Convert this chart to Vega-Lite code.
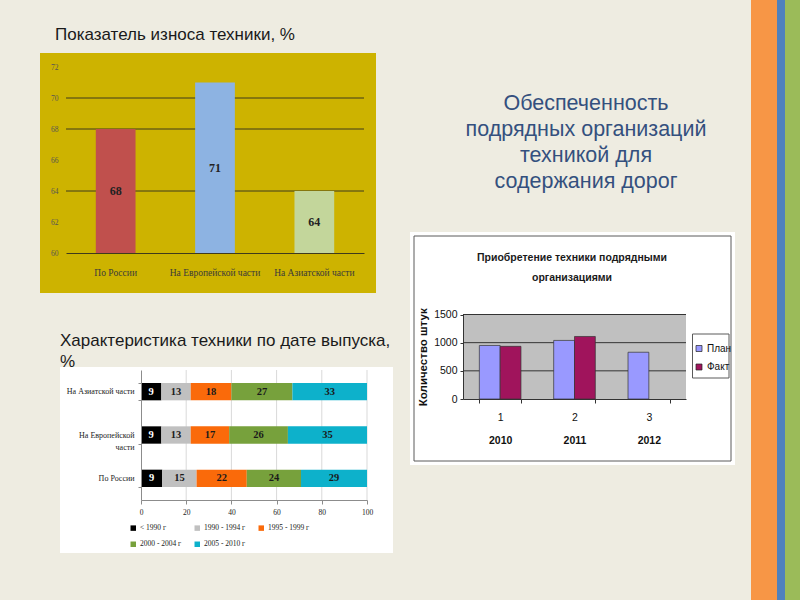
{
"$schema": "https://vega.github.io/schema/vega-lite/v6.json",
"width": 800, "height": 600,
"autosize": {"type": "none"},
"padding": 0,
"background": "#EEECE1",
"config": {"view": {"stroke": null}, "axis": {"grid": false, "zindex": 1}, "legend": {"zindex": 1}},
"resolve": {
  "scale": {"x": "independent", "y": "independent", "color": "independent", "xOffset": "independent"},
  "axis": {"x": "independent", "y": "independent"},
  "legend": {"color": "independent"}
},
"layer": [
{
  "data": {"values": [{"stripe": "orange", "k": 1, "w": 26}, {"stripe": "blue", "k": 2, "w": 8}, {"stripe": "green", "k": 3, "w": 15}]},
  "transform": [{"stack": "w", "groupby": [], "sort": [{"field": "k", "order": "ascending"}], "as": ["w0", "w1"]}],
  "mark": {"type": "rect"},
  "encoding": {
    "x": {"field": "w0", "type": "quantitative", "scale": {"domain": [0, 49], "range": [751, 800], "nice": false, "zero": false}, "axis": null},
    "x2": {"field": "w1"},
    "y": {"datum": 0, "type": "quantitative", "scale": {"domain": [0, 1], "range": [0, 600], "nice": false}, "axis": null},
    "y2": {"datum": 1},
    "color": {"field": "stripe", "type": "nominal", "scale": {"domain": ["orange", "blue", "green"], "range": ["#F79646", "#4F81BD", "#9BBB59"]}, "legend": null}
  }
},
{
  "data": {"values": [{"t": "Показатель износа техники, %"}]},
  "mark": {"type": "text", "align": "left", "baseline": "alphabetic", "font": "Liberation Sans", "fontSize": 17, "color": "#1A1A1A"},
  "encoding": {
    "text": {"field": "t", "type": "nominal"},
    "x": {"datum": 0, "type": "quantitative", "scale": {"domain": [0, 1], "range": [55, 56], "nice": false}, "axis": null},
    "y": {"datum": 0, "type": "quantitative", "scale": {"domain": [0, 1], "range": [40, 41], "nice": false}, "axis": null}
  }
},
{
  "data": {"values": [{"part": "box1"}]},
  "mark": {"type": "rect", "fill": "#CDB300"},
  "encoding": {
    "x": {"datum": 0, "type": "quantitative", "scale": {"domain": [0, 1], "range": [40, 376], "nice": false}, "axis": null},
    "x2": {"datum": 1},
    "y": {"datum": 0, "type": "quantitative", "scale": {"domain": [0, 1], "range": [53, 293], "nice": false}, "axis": null},
    "y2": {"datum": 1}
  }
},
{
  "data": {"values": [{"v": 64}, {"v": 68}, {"v": 70}]},
  "mark": {"type": "rule", "color": "#3F3A1C", "strokeWidth": 1},
  "encoding": {
    "y": {"field": "v", "type": "quantitative", "scale": {"domain": [60, 72], "range": [253, 67], "nice": false, "zero": false}, "axis": null},
    "x": {"datum": 0, "type": "quantitative", "scale": {"domain": [0, 1], "range": [66, 364], "nice": false}, "axis": null},
    "x2": {"datum": 1}
  }
},
{
  "data": {"values": [{"region": "По России", "value": 68}, {"region": "На Европейской части", "value": 71}, {"region": "На Азиатской части", "value": 64}]},
  "mark": {"type": "bar"},
  "encoding": {
    "x": {"field": "region", "type": "nominal", "sort": null,
      "scale": {"domain": ["По России", "На Европейской части", "На Азиатской части"], "range": [66, 364], "paddingInner": 0.6, "paddingOuter": 0.3},
      "axis": {"orient": "bottom", "offset": -347, "title": null, "domainColor": "#3F3A1C", "domainWidth": 1, "ticks": false, "labelPadding": 14, "labelAngle": 0, "labelFont": "Liberation Serif", "labelFontSize": 9.5, "labelColor": "#3A3A3A", "zindex": 1}},
    "y": {"field": "value", "type": "quantitative",
      "scale": {"domain": [60, 72], "range": [253, 67], "nice": false, "zero": false},
      "axis": {"orient": "left", "offset": -66, "title": null, "values": [60, 62, 64, 66, 68, 70, 72], "domain": false, "ticks": false, "grid": false, "labelPadding": 8, "labelFont": "Liberation Serif", "labelFontSize": 7.5, "labelColor": "#555555", "zindex": 1}},
    "y2": {"datum": 60},
    "color": {"field": "region", "type": "nominal", "scale": {"domain": ["По России", "На Европейской части", "На Азиатской части"], "range": ["#C0504D", "#8DB3E2", "#C3D69B"]}, "legend": null}
  }
},
{
  "data": {"values": [{"region": "По России", "value": 68}, {"region": "На Европейской части", "value": 71}, {"region": "На Азиатской части", "value": 64}]},
  "mark": {"type": "text", "font": "Liberation Serif", "fontWeight": "bold", "fontSize": 12, "color": "#222222", "baseline": "middle"},
  "encoding": {
    "x": {"field": "region", "type": "nominal", "sort": null,
      "scale": {"domain": ["По России", "На Европейской части", "На Азиатской части"], "range": [66, 364], "paddingInner": 0.6, "paddingOuter": 0.3}, "axis": null},
    "y": {"field": "value", "type": "quantitative", "scale": {"domain": [60, 84], "range": [253, 67], "nice": false, "zero": false}, "axis": null},
    "text": {"field": "value", "type": "quantitative"}
  }
},
{
  "data": {"values": [{"t": ["Характеристика техники по дате выпуска,", "%"]}]},
  "mark": {"type": "text", "align": "left", "baseline": "alphabetic", "font": "Liberation Sans", "fontSize": 17, "lineHeight": 21, "color": "#1A1A1A"},
  "encoding": {
    "text": {"field": "t", "type": "nominal"},
    "x": {"datum": 0, "type": "quantitative", "scale": {"domain": [0, 1], "range": [60, 61], "nice": false}, "axis": null},
    "y": {"datum": 0, "type": "quantitative", "scale": {"domain": [0, 1], "range": [346, 347], "nice": false}, "axis": null}
  }
},
{
  "data": {"values": [{"part": "box2"}]},
  "mark": {"type": "rect", "fill": "#FFFFFF"},
  "encoding": {
    "x": {"datum": 0, "type": "quantitative", "scale": {"domain": [0, 1], "range": [60, 393], "nice": false}, "axis": null},
    "x2": {"datum": 1},
    "y": {"datum": 0, "type": "quantitative", "scale": {"domain": [0, 1], "range": [367, 553], "nice": false}, "axis": null},
    "y2": {"datum": 1}
  }
},
{
  "data": {"values": [{"v": 20}, {"v": 40}, {"v": 60}, {"v": 80}, {"v": 100}]},
  "mark": {"type": "rule", "color": "#D9D9D9", "strokeWidth": 1},
  "encoding": {
    "x": {"field": "v", "type": "quantitative", "scale": {"domain": [0, 100], "range": [141, 367], "nice": false}, "axis": null},
    "y": {"datum": 0, "type": "quantitative", "scale": {"domain": [0, 1], "range": [370, 500], "nice": false}, "axis": null},
    "y2": {"datum": 1}
  }
},
{
  "data": {"values": [
    {"region": "На Азиатской части", "period": "< 1990 г", "k": 1, "value": 9},
    {"region": "На Азиатской части", "period": "1990 - 1994 г", "k": 2, "value": 13},
    {"region": "На Азиатской части", "period": "1995 - 1999 г", "k": 3, "value": 18},
    {"region": "На Азиатской части", "period": "2000 - 2004 г", "k": 4, "value": 27},
    {"region": "На Азиатской части", "period": "2005 - 2010 г", "k": 5, "value": 33},
    {"region": "На Европейской части", "period": "< 1990 г", "k": 1, "value": 9},
    {"region": "На Европейской части", "period": "1990 - 1994 г", "k": 2, "value": 13},
    {"region": "На Европейской части", "period": "1995 - 1999 г", "k": 3, "value": 17},
    {"region": "На Европейской части", "period": "2000 - 2004 г", "k": 4, "value": 26},
    {"region": "На Европейской части", "period": "2005 - 2010 г", "k": 5, "value": 35},
    {"region": "По России", "period": "< 1990 г", "k": 1, "value": 9.4},
    {"region": "По России", "period": "1990 - 1994 г", "k": 2, "value": 15.2},
    {"region": "По России", "period": "1995 - 1999 г", "k": 3, "value": 22.2},
    {"region": "По России", "period": "2000 - 2004 г", "k": 4, "value": 24.0},
    {"region": "По России", "period": "2005 - 2010 г", "k": 5, "value": 29.2}
  ]},
  "mark": {"type": "bar"},
  "encoding": {
    "y": {"field": "region", "type": "nominal", "sort": null,
      "scale": {"domain": ["На Азиатской части", "На Европейской части", "По России"], "range": [370, 500], "paddingInner": 0.6, "paddingOuter": 0.3},
      "axis": {"orient": "left", "offset": -141, "title": null, "domainColor": "#8C8C8C", "tickBand": "extent", "tickSize": 3, "tickColor": "#8C8C8C", "labelPadding": 4, "labelFont": "Liberation Serif", "labelFontSize": 8, "labelColor": "#222222", "labelLineHeight": 12,
        "labelExpr": "datum.value == 'На Европейской части' ? ['На Европейской', 'части'] : datum.value", "zindex": 1}},
    "x": {"field": "value", "type": "quantitative", "stack": "zero",
      "scale": {"domain": [0, 100], "range": [141, 367], "nice": false},
      "axis": {"orient": "bottom", "offset": -100, "title": null, "values": [0, 20, 40, 60, 80, 100], "grid": false, "domainColor": "#8C8C8C", "tickColor": "#8C8C8C", "tickSize": 4, "labelPadding": 4, "labelFlush": false, "labelFont": "Liberation Serif", "labelFontSize": 7.5, "labelColor": "#222222", "zindex": 1}},
    "order": {"field": "k", "type": "quantitative"},
    "color": {"field": "period", "type": "nominal",
      "scale": {"domain": ["< 1990 г", "1990 - 1994 г", "1995 - 1999 г", "2000 - 2004 г", "2005 - 2010 г"], "range": ["#000000", "#C0C0C0", "#FA6A0A", "#77A13C", "#0DB1CB"]},
      "legend": {"orient": "none", "legendX": 129.5, "legendY": 524, "direction": "horizontal", "columns": 3, "title": null, "padding": 0, "symbolType": "square", "symbolSize": 30, "symbolStrokeWidth": 0, "labelFont": "Liberation Serif", "labelFontSize": 7.5, "labelColor": "#222222", "labelOffset": 3, "columnPadding": 12, "rowPadding": 7.5, "zindex": 1}}
  }
},
{
  "data": {"values": [
    {"region": "На Азиатской части", "k": 1, "value": 9},
    {"region": "На Азиатской части", "k": 2, "value": 13},
    {"region": "На Азиатской части", "k": 3, "value": 18},
    {"region": "На Азиатской части", "k": 4, "value": 27},
    {"region": "На Азиатской части", "k": 5, "value": 33},
    {"region": "На Европейской части", "k": 1, "value": 9},
    {"region": "На Европейской части", "k": 2, "value": 13},
    {"region": "На Европейской части", "k": 3, "value": 17},
    {"region": "На Европейской части", "k": 4, "value": 26},
    {"region": "На Европейской части", "k": 5, "value": 35},
    {"region": "По России", "k": 1, "value": 9.4},
    {"region": "По России", "k": 2, "value": 15.2},
    {"region": "По России", "k": 3, "value": 22.2},
    {"region": "По России", "k": 4, "value": 24.0},
    {"region": "По России", "k": 5, "value": 29.2}
  ]},
  "transform": [
    {"window": [{"op": "sum", "field": "value", "as": "cum"}], "groupby": ["region"], "sort": [{"field": "k", "order": "ascending"}], "frame": [null, 0]},
    {"window": [{"op": "sum", "field": "cum", "as": "cum2"}], "groupby": ["region"], "sort": [{"field": "k", "order": "ascending"}], "frame": [-1, 0]}
  ],
  "mark": {"type": "text", "font": "Liberation Serif", "fontWeight": "bold", "fontSize": 10.5, "baseline": "middle"},
  "encoding": {
    "y": {"field": "region", "type": "nominal", "sort": null,
      "scale": {"domain": ["На Азиатской части", "На Европейской части", "По России"], "range": [370, 500], "paddingInner": 0.6, "paddingOuter": 0.3}, "axis": null},
    "x": {"field": "cum2", "type": "quantitative", "stack": null, "scale": {"domain": [0, 200], "range": [141, 367], "nice": false}, "axis": null},
    "text": {"field": "value", "type": "quantitative", "format": ".0f"},
    "color": {"condition": {"test": "datum.k == 1", "value": "#FFFFFF"}, "value": "#1A1A1A"}
  }
},
{
  "data": {"values": [{"t": ["Обеспеченность", "подрядных организаций", "техникой для", "содержания дорог"]}]},
  "mark": {"type": "text", "align": "center", "baseline": "alphabetic", "font": "Liberation Sans", "fontSize": 21.5, "lineHeight": 26, "color": "#34507E"},
  "encoding": {
    "text": {"field": "t", "type": "nominal"},
    "x": {"datum": 0, "type": "quantitative", "scale": {"domain": [0, 1], "range": [586, 587], "nice": false}, "axis": null},
    "y": {"datum": 0, "type": "quantitative", "scale": {"domain": [0, 1], "range": [110, 111], "nice": false}, "axis": null}
  }
},
{
  "data": {"values": [{"part": "box3"}]},
  "mark": {"type": "rect", "fill": "#FFFFFF"},
  "encoding": {
    "x": {"datum": 0, "type": "quantitative", "scale": {"domain": [0, 1], "range": [410, 735], "nice": false}, "axis": null},
    "x2": {"datum": 1},
    "y": {"datum": 0, "type": "quantitative", "scale": {"domain": [0, 1], "range": [232, 465], "nice": false}, "axis": null},
    "y2": {"datum": 1}
  }
},
{
  "data": {"values": [{"part": "border3"}]},
  "mark": {"type": "rect", "fillOpacity": 0, "stroke": "#5A5A5A", "strokeWidth": 1},
  "encoding": {
    "x": {"datum": 0, "type": "quantitative", "scale": {"domain": [0, 1], "range": [414, 731], "nice": false}, "axis": null},
    "x2": {"datum": 1},
    "y": {"datum": 0, "type": "quantitative", "scale": {"domain": [0, 1], "range": [236, 461], "nice": false}, "axis": null},
    "y2": {"datum": 1}
  }
},
{
  "data": {"values": [{"t": ["Приобретение техники подрядными", "организациями"]}]},
  "mark": {"type": "text", "align": "center", "baseline": "alphabetic", "font": "Liberation Sans", "fontWeight": "bold", "fontSize": 10.5, "lineHeight": 20, "color": "#1A1A1A"},
  "encoding": {
    "text": {"field": "t", "type": "nominal"},
    "x": {"datum": 0, "type": "quantitative", "scale": {"domain": [0, 1], "range": [572, 573], "nice": false}, "axis": null},
    "y": {"datum": 0, "type": "quantitative", "scale": {"domain": [0, 1], "range": [261, 262], "nice": false}, "axis": null}
  }
},
{
  "data": {"values": [{"part": "plot3"}]},
  "mark": {"type": "rect", "fill": "#C0C0C0"},
  "encoding": {
    "x": {"datum": 0, "type": "quantitative", "scale": {"domain": [0, 1], "range": [463, 686], "nice": false}, "axis": null},
    "x2": {"datum": 1},
    "y": {"datum": 0, "type": "quantitative", "scale": {"domain": [0, 1], "range": [314.5, 399], "nice": false}, "axis": null},
    "y2": {"datum": 1}
  }
},
{
  "data": {"values": [{"v": 500}, {"v": 1000}, {"v": 1500}]},
  "mark": {"type": "rule", "color": "#333333", "strokeWidth": 1},
  "encoding": {
    "y": {"field": "v", "type": "quantitative", "scale": {"domain": [0, 1500], "range": [399, 314.5], "nice": false}, "axis": null},
    "x": {"datum": 0, "type": "quantitative", "scale": {"domain": [0, 1], "range": [463, 686], "nice": false}, "axis": null},
    "x2": {"datum": 1}
  }
},
{
  "data": {"values": [
    {"n": "1", "year": "2010", "series": "План", "value": 950},
    {"n": "1", "year": "2010", "series": "Факт", "value": 935},
    {"n": "2", "year": "2011", "series": "План", "value": 1040},
    {"n": "2", "year": "2011", "series": "Факт", "value": 1110},
    {"n": "3", "year": "2012", "series": "План", "value": 830}
  ]},
  "mark": {"type": "bar", "stroke": "#333333", "strokeWidth": 0.7},
  "encoding": {
    "x": {"field": "n", "type": "nominal", "sort": null,
      "scale": {"domain": ["1", "2", "3"], "range": [463, 686], "paddingInner": 0.44, "paddingOuter": 0.22},
      "axis": {"orient": "bottom", "offset": -201, "title": null, "labelAngle": 0, "domainColor": "#333333", "tickBand": "extent", "tickSize": 4, "tickColor": "#333333", "labelPadding": 9, "labelFont": "Liberation Sans", "labelFontSize": 10.5, "labelColor": "#111111", "zindex": 1}},
    "xOffset": {"field": "series", "type": "nominal", "scale": {"domain": ["План", "Факт"], "paddingInner": 0, "paddingOuter": 0}},
    "y": {"field": "value", "type": "quantitative",
      "scale": {"domain": [0, 1500], "range": [399, 314.5], "nice": false},
      "axis": {"orient": "left", "offset": -463, "values": [0, 500, 1000, 1500], "format": "d", "grid": false, "domainColor": "#333333", "tickSize": 3, "tickColor": "#333333", "labelPadding": 3, "labelFont": "Liberation Sans", "labelFontSize": 10.5, "labelColor": "#111111",
        "title": "Количество штук", "titleFont": "Liberation Sans", "titleFontWeight": "bold", "titleFontSize": 11.5, "titleColor": "#111111", "titlePadding": 5, "zindex": 1}},
    "color": {"field": "series", "type": "nominal",
      "scale": {"domain": ["План", "Факт"], "range": ["#9999FF", "#A0145C"]},
      "legend": {"orient": "none", "legendX": 694, "legendY": 343.5, "title": null, "padding": 0, "symbolType": "square", "symbolSize": 36, "symbolStrokeColor": "#222222", "symbolStrokeWidth": 0.7, "labelFont": "Liberation Sans", "labelFontSize": 10, "labelColor": "#111111", "labelOffset": 3, "rowPadding": 8.5, "zindex": 1}}
  }
},
{
  "data": {"values": [{"year": "2010"}, {"year": "2011"}, {"year": "2012"}]},
  "mark": {"type": "point", "opacity": 0},
  "encoding": {
    "x": {"field": "year", "type": "nominal", "sort": null,
      "scale": {"domain": ["2010", "2011", "2012"], "range": [463, 686], "paddingInner": 0.44, "paddingOuter": 0.22},
      "axis": {"orient": "bottom", "offset": -201, "title": null, "labelAngle": 0, "domain": false, "ticks": false, "labelPadding": 36, "labelFont": "Liberation Sans", "labelFontWeight": "bold", "labelFontSize": 10.5, "labelColor": "#111111", "zindex": 1}},
    "y": {"datum": 0, "type": "quantitative", "scale": {"domain": [0, 1], "range": [420, 421], "nice": false}, "axis": null}
  }
},
{
  "data": {"values": [{"part": "legend3"}]},
  "mark": {"type": "rect", "fill": "#FFFFFF", "stroke": "#5A5A5A", "strokeWidth": 1},
  "encoding": {
    "x": {"datum": 0, "type": "quantitative", "scale": {"domain": [0, 1], "range": [692.5, 729], "nice": false}, "axis": null},
    "x2": {"datum": 1},
    "y": {"datum": 0, "type": "quantitative", "scale": {"domain": [0, 1], "range": [334, 378], "nice": false}, "axis": null},
    "y2": {"datum": 1}
  }
}
]
}
